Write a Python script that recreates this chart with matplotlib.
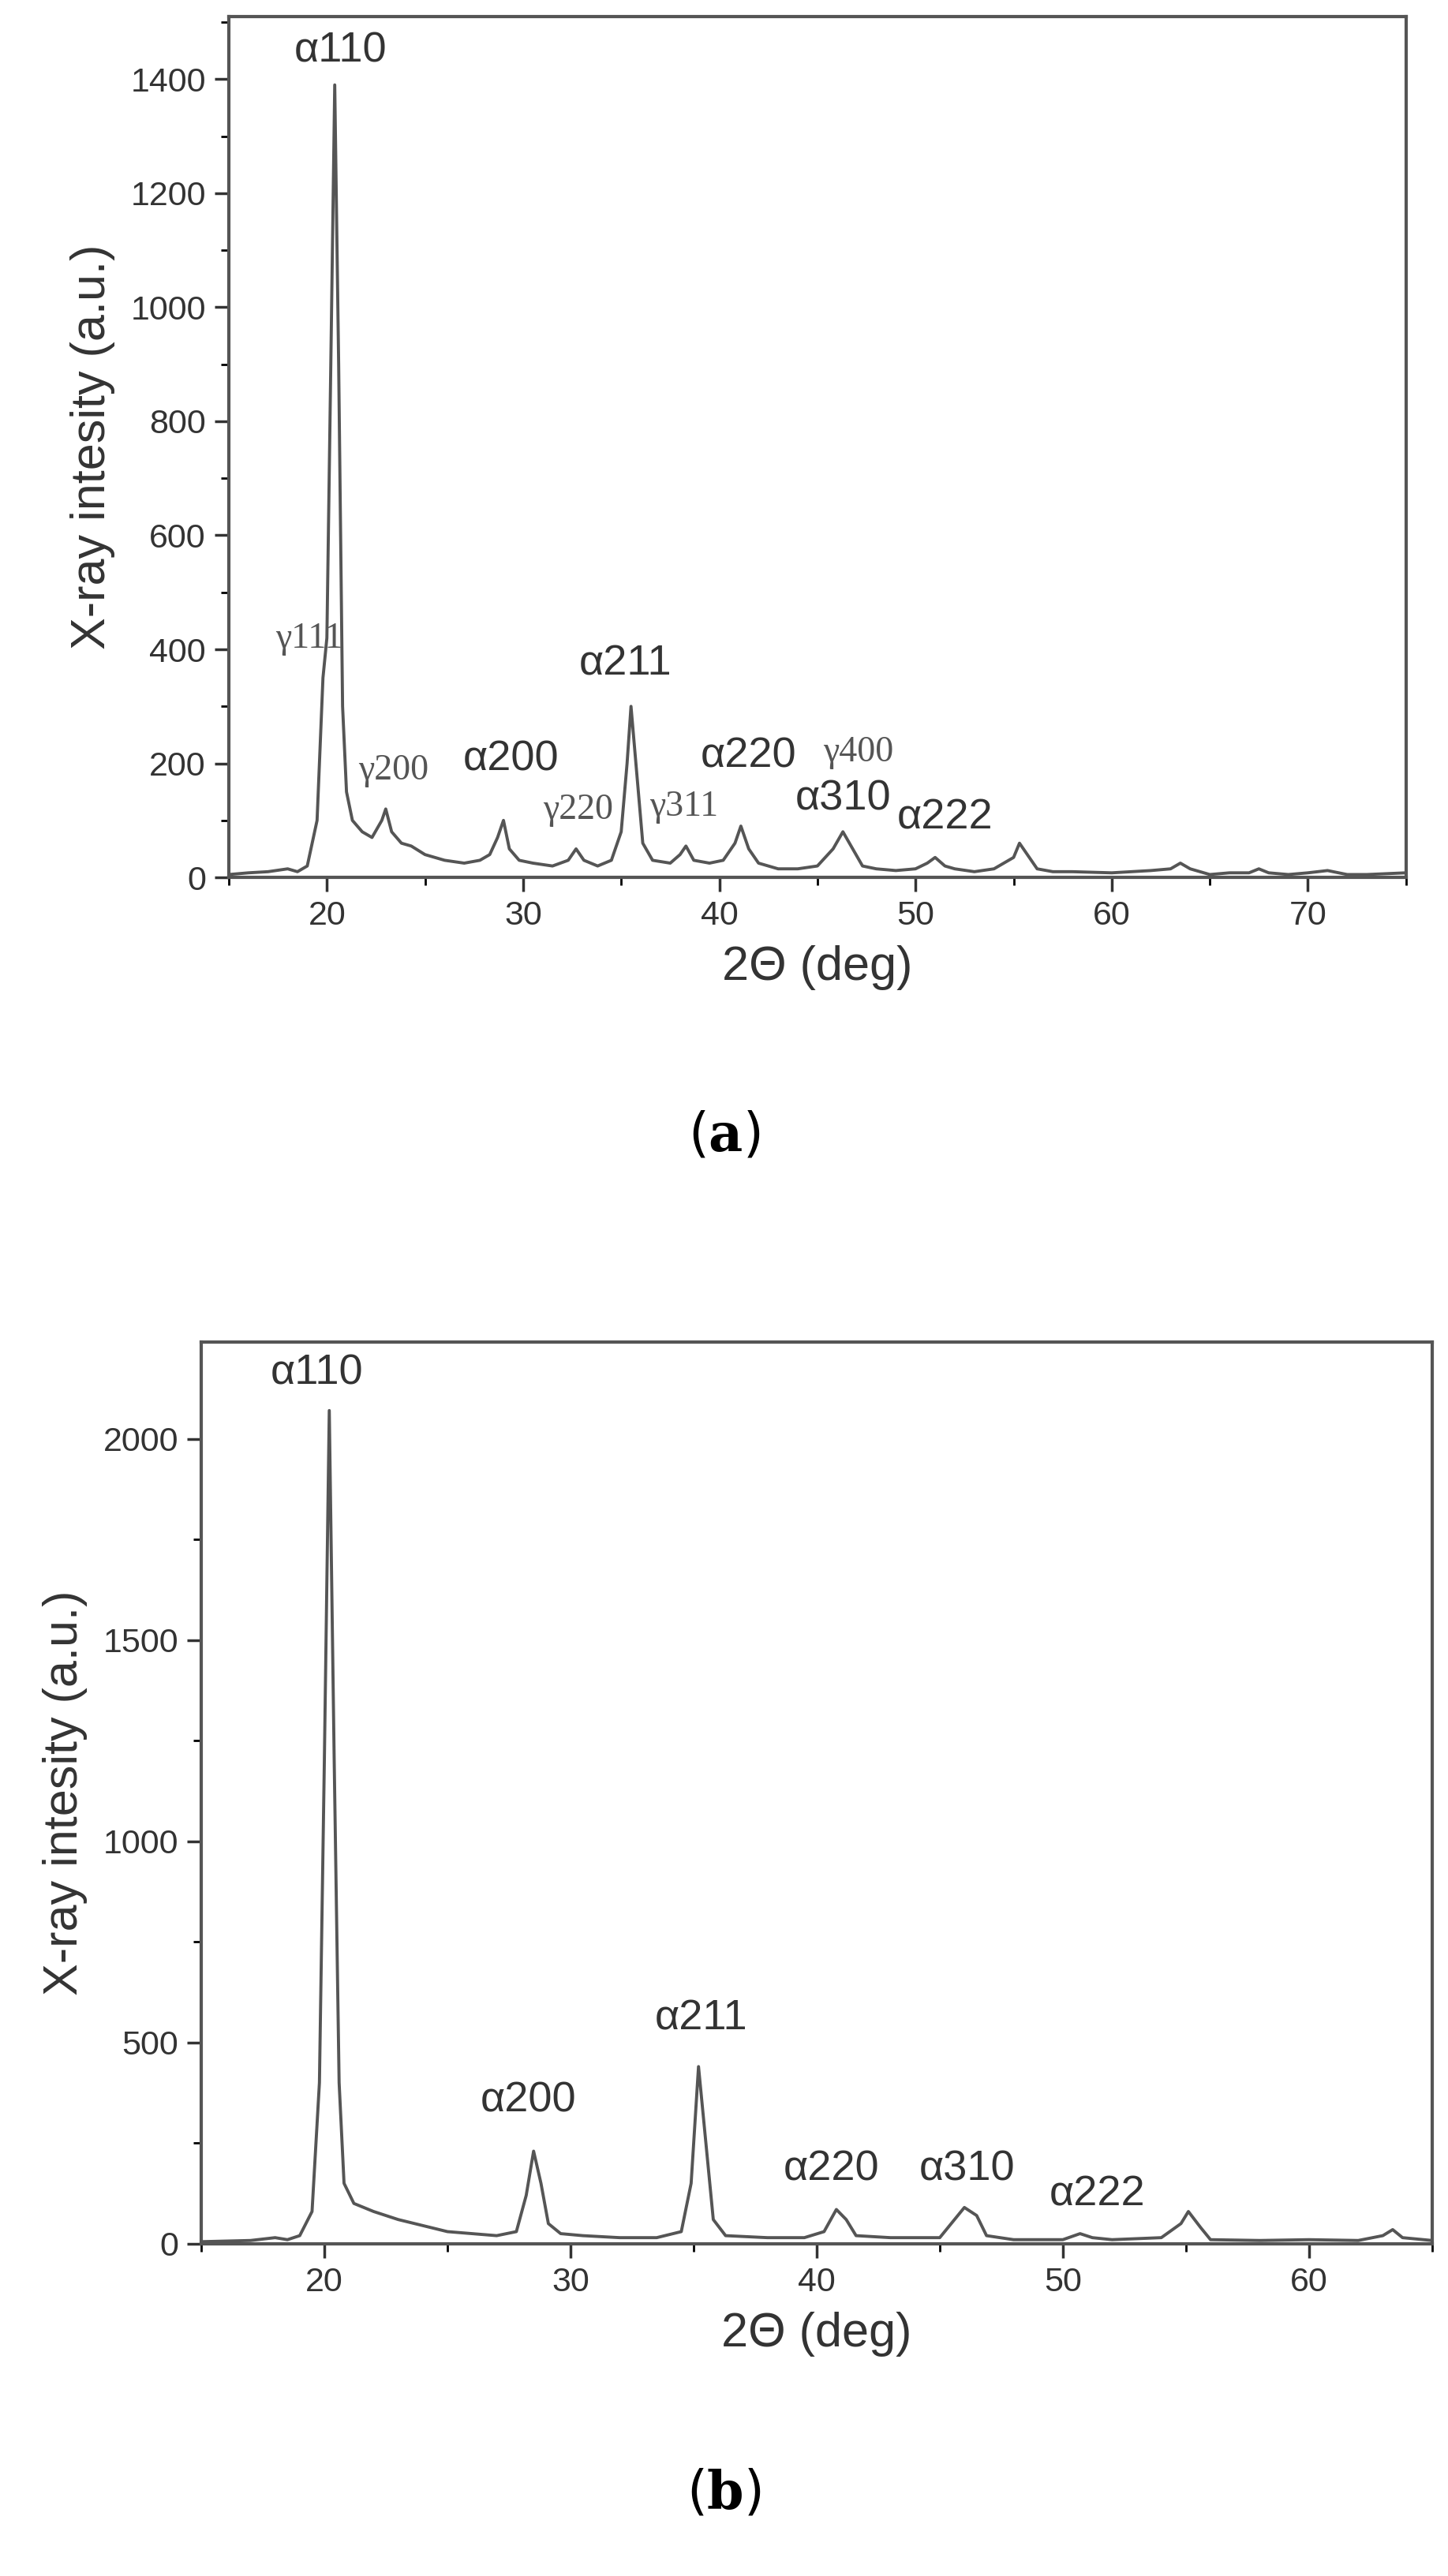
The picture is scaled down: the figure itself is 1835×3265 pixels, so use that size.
import matplotlib
matplotlib.use("Agg")
import matplotlib.pyplot as plt
import matplotlib.ticker as mticker

# ── Panel (a) pattern: (2theta, intensity) ──────────────────────────────────
a_x = [15, 16, 17, 18, 18.5, 19, 19.5, 19.8, 20.0, 20.2, 20.4, 20.6, 20.8, 21.0, 21.3,
       21.8, 22.3, 22.8, 23.0, 23.3, 23.8, 24.3, 25, 26, 27, 27.8, 28.3, 28.7, 29.0,
       29.3, 29.8, 30.5, 31.5, 32.3, 32.7, 33.1, 33.8, 34.5, 35.0, 35.3, 35.5, 35.8,
       36.1, 36.6, 37.5, 38.0, 38.3, 38.7, 39.5, 40.2, 40.8, 41.1, 41.5, 42, 43, 44,
       45, 45.8, 46.3, 46.8, 47.3, 48, 49, 50, 50.6, 51.0, 51.5, 52, 53, 54, 55, 55.3,
       55.7, 56.2, 57, 58, 60, 61, 62, 63, 63.5, 64, 65, 66, 67, 67.5, 68, 69, 70, 71,
       72, 73, 75]
a_y = [5, 8, 10, 15, 10, 20, 100, 350, 420, 900, 1390, 900, 300, 150, 100,
       80, 70, 100, 120, 80, 60, 55, 40, 30, 25, 30, 40, 70, 100,
       50, 30, 25, 20, 30, 50, 30, 20, 30, 80, 200, 300, 180,
       60, 30, 25, 40, 55, 30, 25, 30, 60, 90, 50, 25, 15, 15,
       20, 50, 80, 50, 20, 15, 12, 15, 25, 35, 20, 15, 10, 15, 35, 60,
       40, 15, 10, 10, 8, 10, 12, 15, 25, 15, 5, 8, 8, 15, 8, 5, 8, 12,
       5, 5, 8]
a_labels = ["α110", "γ111", "α211", "γ200", "α200", "γ220", "γ311", "α220", "γ400", "α310", "α222"]
a_lab_x = [20.7, 19.1, 35.2, 23.4, 29.4, 32.8, 38.2, 41.5, 47.1, 46.3, 51.5]
a_lab_y = [1449, 418, 375, 187, 207, 118, 124, 213, 219, 138, 104]

# ── Panel (b) pattern ───────────────────────────────────────────────────────
b_x = [15, 17, 18, 18.5, 19, 19.5, 19.8, 20.0, 20.2, 20.4, 20.6, 20.8, 21.2, 22, 23,
       24, 25, 26, 27, 27.8, 28.2, 28.5, 28.8, 29.1, 29.6, 30.5, 32, 33.5, 34.5, 34.9,
       35.2, 35.5, 35.8, 36.3, 38, 39.5, 40.3, 40.8, 41.2, 41.6, 43, 45, 45.6, 46.0,
       46.5, 46.9, 48, 50, 50.7, 51.2, 52, 54, 54.8, 55.1, 55.6, 56, 58, 60, 62, 63,
       63.4, 63.8, 65]
b_y = [5, 8, 15, 10, 20, 80, 400, 1200, 2070, 1200, 400, 150, 100, 80, 60,
       45, 30, 25, 20, 30, 120, 230, 150, 50, 25, 20, 15, 15, 30, 150,
       440, 250, 60, 20, 15, 15, 30, 85, 60, 20, 15, 15, 60, 90,
       70, 20, 10, 10, 25, 15, 10, 15, 50, 80, 40, 10, 8, 10, 8, 20,
       35, 15, 8]
b_labels = ["α110", "α200", "α211", "α220", "α310", "α222"]
b_lab_x = [19.7, 28.3, 35.3, 40.6, 46.1, 51.4]
b_lab_y = [2163, 355, 559, 184, 184, 122]

SANS = ["Liberation Sans", "DejaVu Sans"]
SERIF = ["Liberation Serif", "DejaVu Serif"]
LINE = "#555555"

plt.rcParams["mathtext.fontset"] = "dejavuserif"
fig = plt.figure(figsize=(18.35, 32.65), dpi=100)


def style(ax, xlim, ylim, xmaj, ymaj, ymin):
    ax.set_xlim(*xlim)
    ax.set_ylim(*ylim)
    ax.xaxis.set_major_locator(mticker.MultipleLocator(xmaj))
    ax.xaxis.set_minor_locator(mticker.MultipleLocator(5))
    ax.yaxis.set_major_locator(mticker.MultipleLocator(ymaj))
    ax.yaxis.set_minor_locator(mticker.MultipleLocator(ymin))
    ax.tick_params(which="major", length=13, width=2.5, labelsize=31, colors="#333333", pad=8)
    ax.tick_params(which="minor", length=7, width=2)
    for lab in ax.get_xticklabels() + ax.get_yticklabels():
        lab.set_family(SANS)
    for sp in ax.spines.values():
        sp.set_linewidth(3)
        sp.set_color("#555555")
    ax.set_xlabel("2Θ (deg)", fontsize=44, family=SANS, labelpad=12, color="#333333")
    ax.set_ylabel("X-ray intesity (a.u.)", fontsize=44, family=SANS, labelpad=14, color="#333333")


# ── (a) ─────────────────────────────────────────────────────────────────────
ax1 = fig.add_axes([0.158, 1 - 0.3406, 0.971 - 0.158, 0.3406 - 0.0064])
ax1.plot(a_x, a_y, color=LINE, linewidth=2.8)
style(ax1, (15, 75), (0, 1510), 10, 200, 100)
for t, x, y in zip(a_labels, a_lab_x, a_lab_y):
    if t.startswith("γ"):
        ax1.text(x, y, t, fontsize=33, family=SERIF, ha="center", va="center", color="#555555")
    else:
        ax1.text(x, y, t, fontsize=39, family=SANS, ha="center", va="center", color="#333333")
fig.text(0.5, 1 - 0.441, r"($\mathbf{a}$)", fontsize=48, ha="center", va="center")

# ── (b) ─────────────────────────────────────────────────────────────────────
ax2 = fig.add_axes([0.139, 1 - 0.871, 0.989 - 0.139, 0.871 - 0.521])
ax2.plot(b_x, b_y, color=LINE, linewidth=2.8)
style(ax2, (15, 65), (0, 2240), 10, 500, 250)
for t, x, y in zip(b_labels, b_lab_x, b_lab_y):
    ax2.text(x, y, t, fontsize=39, family=SANS, ha="center", va="center", color="#333333")
fig.text(0.5, 1 - 0.968, r"($\mathbf{b}$)", fontsize=48, ha="center", va="center")

fig.savefig("out.png", dpi=100)
